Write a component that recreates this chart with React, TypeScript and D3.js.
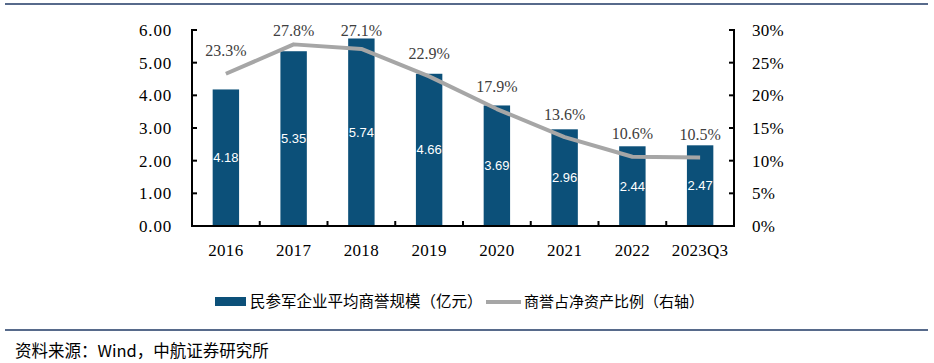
import React from "react";
import * as d3 from "d3";

const categories = ["2016", "2017", "2018", "2019", "2020", "2021", "2022", "2023Q3"];
const goodwill = [4.18, 5.35, 5.74, 4.66, 3.69, 2.96, 2.44, 2.47];
const ratio = [23.3, 27.8, 27.1, 22.9, 17.9, 13.6, 10.6, 10.5];
const leftTicks = [0, 1, 2, 3, 4, 5, 6];
const rightTicks = [0, 5, 10, 15, 20, 25, 30];
const legendBar = "民参军企业平均商誉规模（亿元）";
const legendLine = "商誉占净资产比例（右轴）";
const source = "资料来源：Wind，中航证券研究所";

const W = 934;
const H = 363;
const left = 192;
const right = 734;
const top = 30;
const bottom = 226;

const BAR = "#0c5079";
const LINE = "#a6a6a6";
const NAVY = "#1f3864";
const serif = "'Liberation Serif', 'Times New Roman', serif";
const cjk = "'Noto Sans CJK SC', sans-serif";

const App = () => {
  const x = d3.scaleBand().domain(categories).range([left, right]).paddingInner(0.61).paddingOuter(0.305);
  const xc = d3.scaleBand().domain(categories).range([left, right]);
  const yL = d3.scaleLinear().domain([0, 6]).range([bottom, top]);
  const yR = d3.scaleLinear().domain([0, 30]).range([bottom, top]);

  const line = d3
    .line<number>()
    .x((_, i) => xc(categories[i])! + xc.bandwidth() / 2)
    .y((d) => yR(d));

  const bounds = d3.range(categories.length + 1).map((i) => left + i * xc.bandwidth());

  return (
    <svg width={W} height={H} style={{ position: "absolute", left: 0, top: 0, background: "#fff" }}>
      <line x1={5} x2={928} y1={4} y2={4} stroke={NAVY} strokeWidth={1.5} />
      <line x1={5} x2={928} y1={330} y2={330} stroke={NAVY} strokeWidth={1.5} />

      {goodwill.map((v, i) => (
        <rect key={i} x={x(categories[i])} y={yL(v)} width={x.bandwidth()} height={bottom - yL(v)} fill={BAR} />
      ))}
      {goodwill.map((v, i) => (
        <text
          key={i}
          x={x(categories[i])! + x.bandwidth() / 2}
          y={(yL(v) + bottom) / 2}
          dy="0.35em"
          textAnchor="middle"
          fill="#fff"
          fontFamily="'Liberation Sans', Arial, sans-serif"
          fontSize={13}
        >
          {v.toFixed(2)}
        </text>
      ))}

      <path d={line(ratio)!} fill="none" stroke={LINE} strokeWidth={4} strokeLinejoin="round" />
      {ratio.map((v, i) => (
        <text
          key={i}
          x={xc(categories[i])! + xc.bandwidth() / 2}
          y={Math.max(yR(v) - 23, 30)}
          dy="0.35em"
          textAnchor="middle"
          fill="#404040"
          fontFamily={serif}
          fontSize={16}
        >
          {v.toFixed(1)}%
        </text>
      ))}

      {/* axes */}
      <g stroke="#000" strokeWidth={2}>
        <line x1={left} x2={left} y1={top - 1} y2={bottom + 1} />
        <line x1={right} x2={right} y1={top - 1} y2={bottom + 1} />
        <line x1={left - 1} x2={right + 1} y1={bottom} y2={bottom} />
        {leftTicks.map((t) => (
          <line key={t} x1={left} x2={left + 5} y1={yL(t)} y2={yL(t)} />
        ))}
        {rightTicks.map((t) => (
          <line key={t} x1={right - 5} x2={right} y1={yR(t)} y2={yR(t)} />
        ))}
        {bounds.map((b, i) => (
          <line key={i} x1={b} x2={b} y1={bottom - 5} y2={bottom} />
        ))}
      </g>
      {leftTicks.map((t) => (
        <text key={t} x={172} y={yL(t)} dy="0.35em" textAnchor="end" fontFamily={serif} fontSize={17} letterSpacing={0.8} fill="#000">
          {t.toFixed(2)}
        </text>
      ))}
      {rightTicks.map((t) => (
        <text key={t} x={752} y={yR(t)} dy="0.35em" textAnchor="start" fontFamily={serif} fontSize={17} letterSpacing={0.3} fill="#000">
          {t}%
        </text>
      ))}
      {categories.map((c) => (
        <text key={c} x={xc(c)! + xc.bandwidth() / 2} y={250} dy="0.35em" textAnchor="middle" fontFamily={serif} fontSize={17} letterSpacing={0.3} fill="#000">
          {c}
        </text>
      ))}

      {/* legend */}
      <rect x={215} y={297} width={31} height={9} fill={BAR} />
      <text x={250} y={302} dy="0.35em" fontFamily={cjk} fontSize={15.5} fill="#000">
        {legendBar}
      </text>
      <line x1={486} x2={521} y1={302} y2={302} stroke={LINE} strokeWidth={4} />
      <text x={524} y={302} dy="0.35em" fontFamily={cjk} fontSize={15} fill="#000">
        {legendLine}
      </text>

      <text x={15} y={351} dy="0.35em" fontFamily={cjk} fontSize={16.5} fill="#000">
        {source}
      </text>
    </svg>
  );
};

export default App;
